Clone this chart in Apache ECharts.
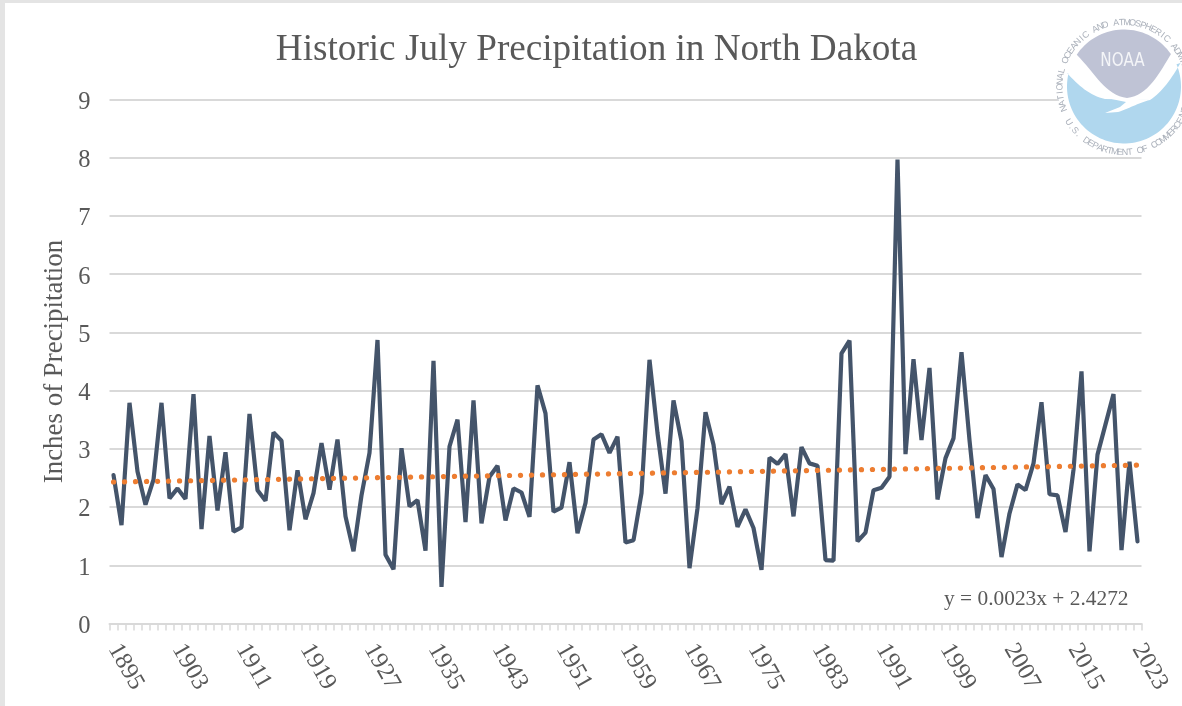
<!DOCTYPE html>
<html>
<head>
<meta charset="utf-8">
<title>Historic July Precipitation in North Dakota</title>
<script src="https://cdn.jsdelivr.net/npm/echarts@6/dist/echarts.min.js"></script>
<style>
  html, body { margin: 0; padding: 0; background: #fff; }
  #chart { width: 1182px; height: 706px; }
</style>
</head>
<body>
<div id="chart"></div>
<script>
const firstYear = 1895
const precip = [
  2.55, 1.69, 3.79, 2.61, 2.04, 2.47, 3.79, 2.15, 2.32, 2.14,
  3.94, 1.62, 3.22, 1.94, 2.94, 1.58, 1.65, 3.60, 2.29, 2.11,
  3.28, 3.14, 1.60, 2.63, 1.79, 2.24, 3.10, 2.30, 3.16, 1.84,
  1.24, 2.20, 2.93, 4.87, 1.18, 0.93, 3.01, 2.01, 2.12, 1.25,
  4.51, 0.63, 3.04, 3.50, 1.74, 3.83, 1.72, 2.52, 2.71, 1.77,
  2.32, 2.25, 1.83, 4.09, 3.61, 1.92, 1.99, 2.77, 1.55, 2.07,
  3.16, 3.25, 2.93, 3.21, 1.39, 1.43, 2.24, 4.53, 3.27, 2.23,
  3.83, 3.13, 0.95, 1.98, 3.63, 3.07, 2.05, 2.35, 1.66, 1.96,
  1.64, 0.92, 2.85, 2.74, 2.91, 1.84, 3.03, 2.75, 2.71, 1.09,
  1.08, 4.64, 4.86, 1.41, 1.56, 2.29, 2.33, 2.52, 7.97, 2.91,
  4.54, 3.15, 4.39, 2.13, 2.84, 3.18, 4.66, 3.15, 1.81, 2.55,
  2.31, 1.14, 1.89, 2.39, 2.29, 2.75, 3.80, 2.22, 2.20, 1.57,
  2.64, 4.33, 1.24, 2.90, 3.42, 3.94, 1.26, 2.78, 1.41
]
const years = precip.map((v, i) => String(firstYear + i))
// ends of the trend line
const trendEnds = [['1895', 2.43], ['2023', 2.72]]

const serif = '"Liberation Serif", "Times New Roman", serif'
const textColor = '#595959'
const gridColor = '#d9d9d9'

// NOAA logo, not data: outlines are sampled here because graphic has no svg path element
const logoX = 1124
const logoY = 86.5
const logoR = 57

const curve = (p0, p1, p2, p3) => {
  const pts = []
  for (let k = 0; k <= 16; k++) {
    const t = k / 16
    const u = 1 - t
    pts.push([
      u * u * u * p0[0] + 3 * u * u * t * p1[0] + 3 * u * t * t * p2[0] + t * t * t * p3[0],
      u * u * u * p0[1] + 3 * u * u * t * p1[1] + 3 * u * t * t * p2[1] + t * t * t * p3[1]
    ])
  }
  return pts
}
// clockwise on screen, degrees from the top of the circle
const arc = (fromDeg, toDeg) => {
  const pts = []
  const n = Math.ceil(Math.abs(toDeg - fromDeg) / 3)
  for (let k = 0; k <= n; k++) {
    const rad = (fromDeg + (toDeg - fromDeg) * k / n) * Math.PI / 180
    pts.push([logoX + logoR * Math.sin(rad), logoY - logoR * Math.cos(rad)])
  }
  return pts
}

const greyShape = arc(-56, 55).concat(
  curve([1171, 54], [1160, 72], [1148, 96], [1127, 98]),
  curve([1127, 98], [1106, 96], [1094, 72], [1077, 55])
)
const blueShape = curve([1067, 73], [1078, 85], [1090, 96], [1105, 99]).concat(
  curve([1150, 100], [1162, 92], [1172, 78], [1180.5, 63]),
  arc(67, 283)
)
const birdShape = [[1097, 96]].concat(
  curve([1150, 100], [1138, 103], [1128, 109], [1118, 112]),
  [[1105, 113], [1120, 107], [1126, 102]]
)

const ringText = (text, startDeg, stepDeg, radius, bottom) => {
  return text.split('').map((ch, i) => {
    const deg = startDeg + stepDeg * i
    const rad = deg * Math.PI / 180
    return {
      type: 'text',
      z: 103,
      x: logoX + radius * Math.sin(rad),
      y: bottom ? logoY + radius * Math.cos(rad) : logoY - radius * Math.cos(rad),
      rotation: bottom ? rad : -rad,
      style: {
        text: ch,
        fill: '#aab0ba',
        font: '9px "Liberation Sans", Arial, sans-serif',
        align: 'center',
        verticalAlign: 'middle'
      }
    }
  })
}

const logo = [
  { type: 'circle', z: 100, shape: { cx: logoX, cy: logoY, r: 68 }, style: { fill: '#fff' } },
  { type: 'polygon', z: 101, shape: { points: greyShape }, style: { fill: '#bfc3d5' } },
  { type: 'polygon', z: 101, shape: { points: blueShape }, style: { fill: '#b0d7ee' } },
  { type: 'polygon', z: 102, shape: { points: birdShape }, style: { fill: '#fff' } },
  {
    type: 'text', z: 103, x: 1122.5, y: 61, scaleX: 0.76,
    style: { text: 'NOAA', fill: '#f4f5f8', font: '20px "DejaVu Sans", sans-serif', align: 'center', verticalAlign: 'middle' }
  }
].concat(
  ringText('NATIONAL OCEANIC AND ATMOSPHERIC ADMINISTRATION', -110, 4.9, 64, false),
  ringText('U.S. DEPARTMENT OF COMMERCE', -57, 4.45, 66, true)
)

const chart = echarts.init(document.getElementById('chart'))
chart.setOption({
  animation: false,
  backgroundColor: '#fff',
  textStyle: { fontFamily: serif },
  title: {
    text: 'Historic July Precipitation in North Dakota',
    left: 591.5,
    top: 27,
    textAlign: 'center',
    textStyle: { fontFamily: serif, fontSize: 37.2, fontWeight: 'normal', color: textColor }
  },
  grid: { left: 109.5, right: 40.5, top: 99.5, height: 524 },
  xAxis: {
    type: 'category',
    data: years,
    boundaryGap: true,
    axisLine: { lineStyle: { color: gridColor, width: 2 } },
    axisTick: { show: true, interval: 0, length: 7, lineStyle: { color: gridColor, width: 1.5 } },
    axisLabel: { interval: 7, rotate: -60, margin: 22, color: textColor, fontFamily: serif, fontSize: 24.5 },
    splitLine: { show: false }
  },
  yAxis: {
    type: 'value',
    min: 0,
    max: 9,
    interval: 1,
    name: 'Inches of Precipitation',
    nameLocation: 'middle',
    nameRotate: 90,
    nameGap: 41,
    nameMoveOverlap: false,
    nameTextStyle: { color: textColor, fontFamily: serif, fontSize: 26.9 },
    axisLine: { show: false },
    axisTick: { show: false },
    axisLabel: {
      margin: 19,
      formatter: '{tick|{value}}',
      rich: {
        tick: { color: textColor, fontFamily: serif, fontSize: 24.5, padding: [6, 0, 0, 0] }
      }
    },
    splitLine: { lineStyle: { color: gridColor, width: 2 } }
  },
  series: [
    {
      name: 'Precipitation',
      type: 'line',
      data: precip,
      showSymbol: false,
      symbol: 'none',
      z: 3,
      lineStyle: { color: '#44546a', width: 4.2, join: 'bevel', cap: 'round' }
    },
    {
      name: 'Trend',
      type: 'line',
      data: trendEnds,
      showSymbol: false,
      symbol: 'none',
      z: 4,
      lineStyle: { color: '#ed7d31', width: 5.2, type: [0.1, 10.9], cap: 'round' }
    }
  ],
  graphic: [
    { type: 'rect', z: 110, shape: { x: 0, y: 0, width: 1182, height: 3 }, style: { fill: '#e4e4e4' } },
    { type: 'rect', z: 110, shape: { x: 0, y: 0, width: 5, height: 706 }, style: { fill: '#e4e4e4' } },
    {
      type: 'text',
      z: 50,
      x: 944,
      y: 599,
      style: { text: 'y = 0.0023x + 2.4272', fill: textColor, font: '21.4px ' + serif, verticalAlign: 'middle' }
    }
  ].concat(logo)
})
</script>
</body>
</html>
